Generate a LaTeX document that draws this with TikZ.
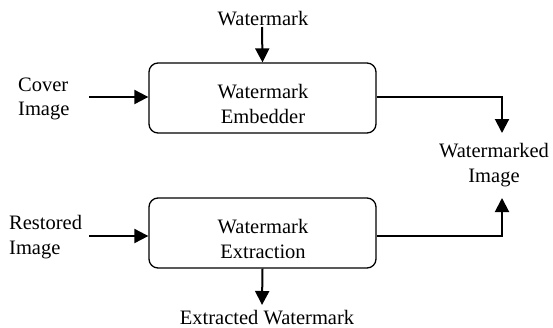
\documentclass[tikz,border=0pt]{standalone}
\usepackage{fontspec}
\setmainfont{Liberation Serif}
\usetikzlibrary{arrows.meta}
\newcommand{\diagfont}{\fontsize{20.5}{24.5}\selectfont}
\begin{document}
\begin{tikzpicture}[x=1pt,y=-1pt,
  blockbox/.style={draw, line width=1.3pt, rounded corners=9pt, minimum width=227pt, minimum height=70pt},
  lbl/.style={font=\diagfont, inner sep=0pt},
  arr/.style={line width=2pt, -{Triangle[length=14pt,width=14pt]}}]
\useasboundingbox (0,0) rectangle (553,327);
\node[blockbox] (emb) at (262.5,98) {};
\node[blockbox] (ext) at (262.5,233) {};
\node[lbl, align=center] (embt) at (263,104) {Watermark\\Embedder};
\node[lbl, align=center] (extt) at (263,239) {Watermark\\Extraction};
\node[lbl, anchor=base] (wm) at (263,25) {Watermark};
\node[lbl, align=left, anchor=west] (cover) at (18,99) {Cover\\Image};
\node[lbl, align=left, anchor=west] (rest) at (9,237) {Restored\\Image};
\node[lbl, align=center] (wmd) at (494,165) {Watermarked\\Image};
\node[lbl, anchor=base] (exwm) at (267,324) {Extracted Watermark};
\coordinate (cin) at (89,97);
\coordinate (rin) at (89,236);
\coordinate (wtop) at (262,27);
\coordinate (t1) at (502,133);
\coordinate (t2) at (502,198);
\coordinate (xb) at (262,305);
\draw[arr] (wtop) -- (emb.north);
\draw[arr] (cin) -- (emb.west |- cin);
\draw[arr] (rin) -- (ext.west |- rin);
\draw[arr] (emb.east |- cin) -| (t1);
\draw[arr] (ext.east |- rin) -| (t2);
\draw[arr] (ext.south) -- (xb);
\end{tikzpicture}
\end{document}
